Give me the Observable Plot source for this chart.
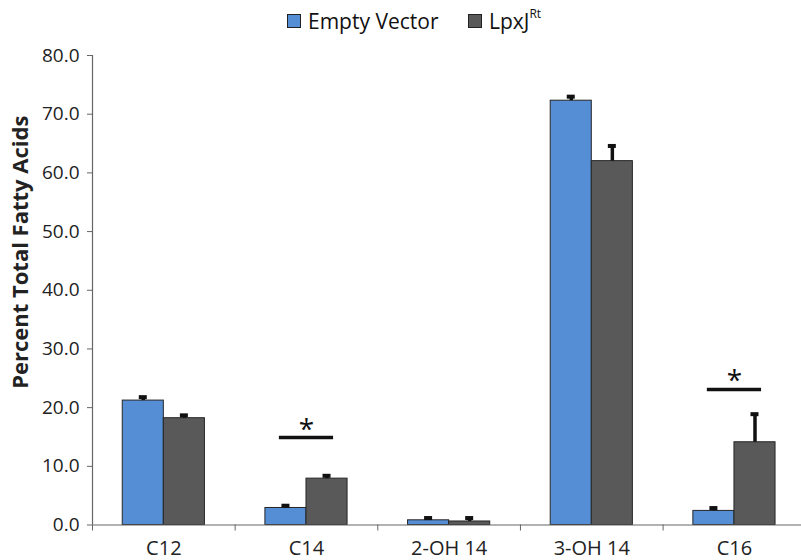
<!DOCTYPE html>
<html><head><meta charset="utf-8">
<script src="https://cdn.jsdelivr.net/npm/d3@7"></script>
<script src="https://cdn.jsdelivr.net/npm/@observablehq/plot@0.6"></script>
<style>
body{margin:0;background:#fff;font-family:"Open Sans",sans-serif;}
#legend{position:relative;height:40px;width:801px;}
.item{position:absolute;top:7px;display:flex;align-items:center;font-size:21px;color:#111;white-space:nowrap;}
.sw{width:12px;height:12px;border:1px solid #222;margin-right:7px;}
sup{font-size:12px;position:relative;top:-3px;}
#chart svg{display:block;}
</style></head>
<body><div id="legend"></div><div id="chart"></div>
<script>
// ---- data ----
const categories = ["C12", "C14", "2-OH 14", "3-OH 14", "C16"];
const seriesNames = ["Empty Vector", "LpxJ"];
const seriesSup = ["", "Rt"];
const emptyVector = [21.2, 2.9, 0.8, 72.3, 2.4];
const emptyVectorErr = [0.5, 0.3, 0.3, 0.6, 0.4];
const lpxJ = [18.2, 7.9, 0.6, 62.0, 14.1];
const lpxJErr = [0.4, 0.4, 0.5, 2.5, 4.7];
const sigCategories = ["C14", "C16"];
const sigLevels = [14.9, 23.1];
const yTicks = [0, 10, 20, 30, 40, 50, 60, 70, 80];

// ---- styles ----
const colors = ["#558ED5", "#595959"];
const barW = 0.288;

// legend
const legend = document.getElementById("legend");
const legendLeft = [287, 468];
seriesNames.forEach((n, s) => {
  const it = document.createElement("div");
  it.className = "item";
  it.style.left = legendLeft[s] + "px";
  const sw = document.createElement("div");
  sw.className = "sw"; sw.style.background = colors[s];
  it.appendChild(sw);
  const t = document.createElement("span");
  t.textContent = n;
  if (seriesSup[s]) { const sp = document.createElement("sup"); sp.textContent = seriesSup[s]; t.appendChild(sp); }
  it.appendChild(t);
  legend.appendChild(it);
});

const values = [emptyVector, lpxJ];
const errs = [emptyVectorErr, lpxJErr];
const bars = [];
categories.forEach((c, i) => {
  [0, 1].forEach(s => {
    bars.push({cat: c, series: seriesNames[s], x1: i + (s - 1) * barW, x2: i + s * barW,
      xc: i + (s - 0.5) * barW, value: values[s][i], top: values[s][i] + errs[s][i]});
  });
});
const sig = sigCategories.map((c, k) => ({i: categories.indexOf(c), y: sigLevels[k]}));
const idx = categories.map((c, i) => i);
const bounds = [-0.5, ...idx.map(i => i + 0.5)];

const chart = Plot.plot({
  width: 801, height: 520,
  marginTop: 15, marginBottom: 35.5, marginLeft: 92, marginRight: 0,
  style: {fontFamily: "Open Sans", fontSize: "19px", color: "#222", background: "#fff"},
  x: {type: "linear", domain: [-0.5, 4.47]},
  y: {domain: [0, 80]},
  color: {domain: seriesNames, range: colors},
  marks: [
    Plot.rect(bars, {x1: "x1", x2: "x2", y1: 0, y2: "value", fill: "series", stroke: "#262626", strokeWidth: 1}),
    Plot.ruleX(bars, {x: "xc", y1: "value", y2: "top", stroke: "#111", strokeWidth: 3.5}),
    Plot.rect(bars, {x1: "xc", x2: "xc", y1: "top", y2: "top", insetLeft: -4, insetRight: -4, insetTop: -2, insetBottom: -2, fill: "#111"}),
    Plot.ruleY(sig, {x1: d => d.i - 0.19, x2: d => d.i + 0.19, y: "y", stroke: "#111", strokeWidth: 3.5}),
    Plot.text(sig, {x: "i", y: "y", text: () => "*", fontSize: 28, dy: -8, fill: "#111"}),
    Plot.ruleY([0], {stroke: "#666", strokeWidth: 1.2}),
    Plot.ruleX([-0.5], {y1: 0, y2: 80, stroke: "#666", strokeWidth: 1.2}),
    Plot.axisY({ticks: yTicks, tickFormat: d => d.toFixed(1), tickSize: 5, tickPadding: 8, fontSize: 19,
      stroke: "#666", label: "Percent Total Fatty Acids", labelAnchor: "center", labelArrow: "none", labelOffset: 80}),
    Plot.axisX({ticks: bounds, tickFormat: () => "", tickSize: 6, stroke: "#666", label: null}),
    Plot.axisX({ticks: idx, tickFormat: i => categories[i], tickSize: 0, tickPadding: 16, fontSize: 20, label: null})
  ]
});
document.getElementById("chart").appendChild(chart);
// bold axis label, shifted up like the reference
chart.querySelectorAll("g[aria-label='y-axis label'] text").forEach(t => {
  t.style.fontWeight = "bold"; t.style.fontSize = "22px";
  const tr = t.getAttribute("transform") || "";
  t.setAttribute("transform", "translate(0,-38) " + tr);
});
</script>
</body></html>
